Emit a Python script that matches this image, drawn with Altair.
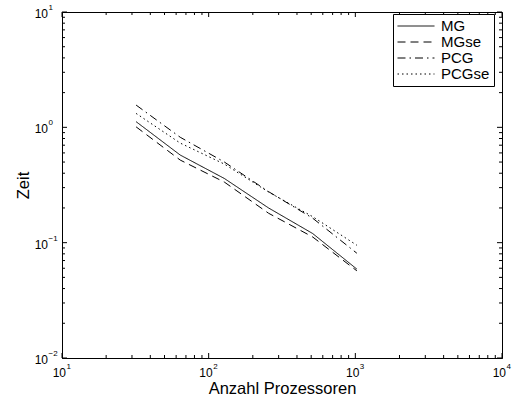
import altair as alt
import pandas as pd

# Laufzeiten der vier Verfahren ueber der Anzahl der Prozessoren
procs = [32, 64, 128, 256, 512, 1024]
mg = [1.12, 0.575, 0.36, 0.20, 0.12, 0.059]
mgse = [1.01, 0.52, 0.335, 0.18, 0.112, 0.057]
pcg = [1.56, 0.82, 0.50, 0.277, 0.163, 0.081]
pcgse = [1.32, 0.73, 0.48, 0.275, 0.168, 0.095]

series_names = ["MG", "MGse", "PCG", "PCGse"]
series_dash = [[1, 0], [8, 5], [8, 4, 1.5, 4], [1.5, 3]]

# Dekaden der beiden logarithmischen Achsen
x_decades = [10, 100, 1000, 10000]
x_exponents = ["1", "2", "3", "4"]
y_decades = [0.01, 0.1, 1, 10]
y_exponents = ["\u22122", "\u22121", "0", "1"]

FONT = "Liberation Sans"
W, H = 440, 346

rows = []
for name, vals in zip(series_names, [mg, mgse, pcg, pcgse]):
    for p, v in zip(procs, vals):
        rows.append({"Prozessoren": p, "Zeit": v, "Verfahren": name})
df = pd.DataFrame(rows)


def minor_ticks(decades):
    return [m * d for d in decades[:-1] for m in range(2, 10)]


x_major = pd.DataFrame({"t": x_decades})
x_minor = pd.DataFrame({"t": minor_ticks(x_decades)})
y_major = pd.DataFrame({"t": y_decades})
y_minor = pd.DataFrame({"t": minor_ticks(y_decades)})
x_labels = pd.DataFrame({"t": x_decades, "base": ["10"] * 4, "exp": x_exponents})
y_labels = pd.DataFrame({"t": y_decades, "base": ["10"] * 4, "exp": y_exponents})

xs = alt.Scale(type="log", domain=[10, 10000], nice=False)
ys = alt.Scale(type="log", domain=[0.01, 10], nice=False)

ax_x = alt.Axis(labels=False, ticks=False, grid=False, domain=True,
                domainColor="black", domainWidth=1,
                title="Anzahl Prozessoren", titleFont=FONT, titleFontSize=16.5,
                titleFontWeight="normal", titleColor="black", titlePadding=22)
ax_y = alt.Axis(labels=False, ticks=False, grid=False, domain=True,
                domainColor="black", domainWidth=1,
                title="Zeit", titleFont=FONT, titleFontSize=16.5,
                titleFontWeight="normal", titleColor="black", titlePadding=31)

# legend sample line: starts at the symbol's left edge and runs 37 px to the
# right, while the symbol itself stays only 15 px high so rows stay tight
legend_stroke = "M-1,0H3.93"

lines = alt.Chart(df).mark_line(color="black", strokeWidth=1, clip=True).encode(
    x=alt.X("Prozessoren:Q", scale=xs, axis=ax_x),
    y=alt.Y("Zeit:Q", scale=ys, axis=ax_y),
    strokeDash=alt.StrokeDash(
        "Verfahren:N",
        scale=alt.Scale(domain=series_names, range=series_dash),
        legend=alt.Legend(
            title=None, orient="none", legendX=331, legendY=2,
            fillColor="white", strokeColor="black", padding=4,
            labelFont=FONT, labelFontSize=15, labelColor="black",
            labelOffset=28, labelLimit=200, rowPadding=0,
            symbolType=legend_stroke, symbolSize=225,
            symbolStrokeColor="black", symbolStrokeWidth=1,
            symbolFillColor="transparent",
        ),
    ),
    order="Prozessoren:Q",
)


def x_ticks(data, length):
    bottom = alt.Chart(data).mark_rule(color="black", strokeWidth=1).encode(
        x=alt.X("t:Q", scale=xs, axis=ax_x),
        y=alt.value(H), y2=alt.value(H - length))
    top = alt.Chart(data).mark_rule(color="black", strokeWidth=1).encode(
        x=alt.X("t:Q", scale=xs, axis=ax_x),
        y=alt.value(0), y2=alt.value(length))
    return [bottom, top]


def y_ticks(data, length):
    left = alt.Chart(data).mark_rule(color="black", strokeWidth=1).encode(
        y=alt.Y("t:Q", scale=ys, axis=ax_y),
        x=alt.value(0), x2=alt.value(length))
    right = alt.Chart(data).mark_rule(color="black", strokeWidth=1).encode(
        y=alt.Y("t:Q", scale=ys, axis=ax_y),
        x=alt.value(W), x2=alt.value(W - length))
    return [left, right]


ticks = (x_ticks(x_major, 5) + x_ticks(x_minor, 3)
         + y_ticks(y_major, 5) + y_ticks(y_minor, 3))

x_base = alt.Chart(x_labels).mark_text(
    align="right", baseline="alphabetic", font=FONT, fontSize=12,
    color="black", dx=4, dy=19).encode(
    x=alt.X("t:Q", scale=xs, axis=ax_x), y=alt.value(H), text="base:N")
x_exp = alt.Chart(x_labels).mark_text(
    align="left", baseline="alphabetic", font=FONT, fontSize=8,
    color="black", dx=4.5, dy=11).encode(
    x=alt.X("t:Q", scale=xs, axis=ax_x), y=alt.value(H), text="exp:N")
y_base = alt.Chart(y_labels).mark_text(
    align="right", baseline="alphabetic", font=FONT, fontSize=12,
    color="black", dy=6).encode(
    y=alt.Y("t:Q", scale=ys, axis=ax_y), x=alt.value(-14), text="base:N")
y_exp = alt.Chart(y_labels).mark_text(
    align="left", baseline="alphabetic", font=FONT, fontSize=8,
    color="black", dx=0.5, dy=-2).encode(
    y=alt.Y("t:Q", scale=ys, axis=ax_y), x=alt.value(-14), text="exp:N")

chart = alt.layer(lines, *ticks, x_base, x_exp, y_base, y_exp).properties(
    width=W, height=H,
    autosize=alt.AutoSizeParams(type="none"),
    padding={"left": 62, "top": 12, "right": 13, "bottom": 45},
    background="white",
).configure_view(stroke="black", strokeWidth=1)

chart.save("out.html", embed_options={"renderer": "svg", "actions": False})
